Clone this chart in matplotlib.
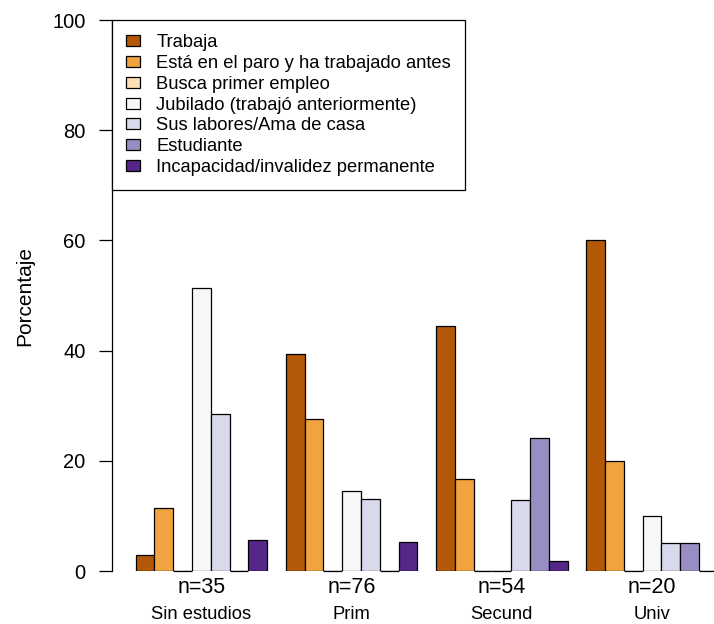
import numpy as np
import matplotlib
matplotlib.use('Agg')
import matplotlib.pyplot as plt
from matplotlib.patches import Patch

plt.rcParams['font.family'] = ['Liberation Sans', 'DejaVu Sans']

############### Data ###############
niveles = ['Sin estudios', 'Prim', 'Secund', 'Univ']
n_labels = ['n=35', 'n=76', 'n=54', 'n=20']
situaciones = ['Trabaja', 'Está en el paro y ha trabajado antes', 'Busca primer empleo',
               'Jubilado (trabajó anteriormente)', 'Sus labores/Ama de casa', 'Estudiante',
               'Incapacidad/invalidez permanente']
# porcentajes por nivel de estudios (una lista por situacion)
trabaja = [2.86, 39.47, 44.44, 60.0]
paro = [11.43, 27.63, 16.67, 20.0]
busca = [0.0, 0.0, 0.0, 0.0]
jubilado = [51.43, 14.47, 0.0, 10.0]
labores = [28.57, 13.16, 12.96, 5.0]
estudiante = [0.0, 0.0, 24.07, 5.0]
incapacidad = [5.71, 5.26, 1.85, 0.0]

colores = ['#B35806', '#F1A340', '#FEE0B6', '#F7F7F7', '#D8DAEB', '#998EC3', '#542788']

series = [trabaja, paro, busca, jubilado, labores, estudiante, incapacidad]

############### Plot ###############
fig = plt.figure(figsize=(7.14, 6.24), dpi=100)
ax = fig.add_axes([0.1574, 0.0849, 0.8804, 0.8830])

n_sit = len(situaciones)
group_start = np.arange(len(niveles)) * (n_sit + 1) + 1
for i, vals in enumerate(series):
    x = group_start + i
    ax.bar(x, vals, width=1, align='edge', color=colores[i],
           edgecolor='black', linewidth=0.9)
    # barras con valor 0 se ven como una linea en la base
    vals = np.array(vals)
    ceros = x[vals == 0]
    if len(ceros):
        ax.hlines(np.zeros(len(ceros)), ceros, ceros + 1, color='black',
                  linewidth=0.9, clip_on=False)

ax.set_xlim(-0.24, 33.24)
ax.set_ylim(0, 100)

for s in ['top', 'right', 'bottom']:
    ax.spines[s].set_visible(False)
ax.spines['left'].set_linewidth(0.9)

ax.set_yticks([0, 20, 40, 60, 80, 100])
ax.tick_params(axis='y', length=9.4, width=0.9, pad=10, labelsize=14.5)
ax.set_xticks([])

centers = group_start + n_sit / 2
for c, nl, nv in zip(centers, n_labels, niveles):
    ax.text(c, -0.040, nl, transform=ax.get_xaxis_transform(), ha='center',
            va='baseline', fontsize=15.5)
    ax.text(c, -0.087, nv, transform=ax.get_xaxis_transform(), ha='center',
            va='baseline', fontsize=13.2)

ax.set_ylabel('Porcentaje', fontsize=15)
ax.yaxis.set_label_coords(-0.1247, 0.5)

handles = [Patch(facecolor=colores[i], edgecolor='black', linewidth=0.9) for i in range(n_sit)]
leg = ax.legend(handles, situaciones, loc='upper left', bbox_to_anchor=(0, 1),
                borderaxespad=0, fontsize=13.2, frameon=True, fancybox=False,
                edgecolor='black', framealpha=1, handlelength=0.76, handleheight=0.55,
                handletextpad=0.87, labelspacing=0.21, borderpad=0.76)
leg.get_frame().set_linewidth(0.9)

plt.savefig('out.png', dpi=100)
